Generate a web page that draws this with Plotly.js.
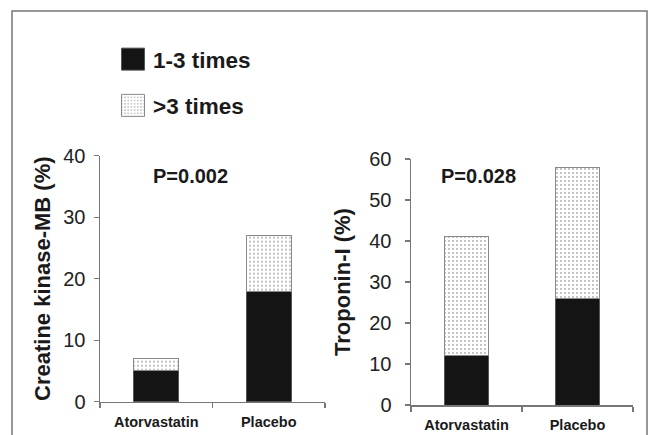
<!DOCTYPE html>
<html>
<head>
<meta charset="utf-8">
<script src="https://cdn.plot.ly/plotly-3.0.1.min.js"></script>
<style>html,body{margin:0;padding:0;background:#fff;}#chart{width:656px;height:435px;}</style>
</head>
<body>
<div id="chart"></div>
<script>
// Data
const categories = ['Atorvastatin', 'Placebo'];
const seriesNames = ['1-3 times', '>3 times'];
const ckLow = [5, 18];     // Creatine kinase-MB, 1-3 times (%)
const ckHigh = [2, 9];     // Creatine kinase-MB, >3 times (%)
const tnLow = [12, 26];    // Troponin-I, 1-3 times (%)
const tnHigh = [29, 32];   // Troponin-I, >3 times (%)
const pLabels = ['P=0.002', 'P=0.028'];
const yTitles = ['Creatine kinase-MB (%)', 'Troponin-I (%)'];

const W = 656, H = 435;
const FONT = 'Arial, "Liberation Sans", sans-serif';
const px = v => v / W;
const py = v => 1 - v / H;

const black = {color: '#141414', line: {color: '#555', width: 1}};
const dotted = {color: '#ffffff', line: {color: '#8a8a8a', width: 1},
  pattern: {shape: '.', fgcolor: '#b0b0b0', bgcolor: '#ffffff', size: 4, solidity: 0.18}};

const traces = [
  {type: 'bar', x: categories, y: ckLow, name: seriesNames[0], marker: black, xaxis: 'x', yaxis: 'y', legendgroup: 'a', showlegend: true, hoverinfo: 'skip'},
  {type: 'bar', x: categories, y: ckHigh, name: seriesNames[1], marker: dotted, xaxis: 'x', yaxis: 'y', legendgroup: 'b', showlegend: true, hoverinfo: 'skip'},
  {type: 'bar', x: categories, y: tnLow, name: seriesNames[0], marker: black, xaxis: 'x2', yaxis: 'y2', legendgroup: 'a', showlegend: false, hoverinfo: 'skip'},
  {type: 'bar', x: categories, y: tnHigh, name: seriesNames[1], marker: dotted, xaxis: 'x2', yaxis: 'y2', legendgroup: 'b', showlegend: false, hoverinfo: 'skip'}
];

const axisLine = {showline: true, linecolor: '#777', linewidth: 1.5, ticks: 'outside', ticklen: 5, tickcolor: '#777', tickwidth: 1.2, showgrid: false, zeroline: false, fixedrange: true};
const xCommon = Object.assign({}, axisLine, {type: 'category', tickson: 'boundaries', ticklen: 5, ticklabelstandoff: 6,
  tickfont: {family: FONT, size: 14.5, weight: 'bold', color: '#1a1a1a'}});
const yCommon = Object.assign({}, axisLine, {tickfont: {family: FONT, size: 20, color: '#222'}});
const titleFont = {family: FONT, size: 22, weight: 'bold', color: '#1a1a1a'};

const layout = {
  width: W, height: H,
  margin: {l: 0, r: 0, t: 0, b: 0},
  paper_bgcolor: '#fff', plot_bgcolor: '#fff',
  barmode: 'stack', bargap: 0.6,
  font: {family: FONT, color: '#1a1a1a'},
  xaxis: Object.assign({}, xCommon, {domain: [px(100), px(325)], anchor: 'y'}),
  yaxis: Object.assign({}, yCommon, {domain: [py(401.7), py(155.7)], range: [0, 40], tickvals: [0, 10, 20, 30, 40], anchor: 'x',
    ticklabelstandoff: 4, title: {text: yTitles[0], font: titleFont, standoff: 6}}),
  xaxis2: Object.assign({}, xCommon, {domain: [px(411), px(633)], anchor: 'y2'}),
  yaxis2: Object.assign({}, yCommon, {domain: [py(405), py(159)], range: [0, 60], tickvals: [0, 10, 20, 30, 40, 50, 60], anchor: 'x2',
    ticklabelstandoff: 9, title: {text: yTitles[1], font: titleFont, standoff: 12}}),
  showlegend: true,
  legend: {x: px(113), y: py(38), xanchor: 'left', yanchor: 'top', traceorder: 'grouped', tracegroupgap: 14,
    font: {family: FONT, size: 22.5, weight: 'bold', color: '#1a1a1a'}, bgcolor: 'rgba(0,0,0,0)', borderwidth: 0, itemclick: false, itemdoubleclick: false},
  annotations: [
    {xref: 'paper', yref: 'paper', x: px(190.5), y: py(176), text: pLabels[0], showarrow: false, xanchor: 'center', yanchor: 'middle',
      font: {family: FONT, size: 20, weight: 'bold', color: '#1a1a1a'}},
    {xref: 'paper', yref: 'paper', x: px(478.5), y: py(176), text: pLabels[1], showarrow: false, xanchor: 'center', yanchor: 'middle',
      font: {family: FONT, size: 20, weight: 'bold', color: '#1a1a1a'}}
  ],
  shapes: [
    {type: 'rect', xref: 'paper', yref: 'paper', x0: px(12), x1: px(647), y0: -0.05, y1: py(11),
      line: {color: '#777', width: 1.5}, fillcolor: 'rgba(0,0,0,0)', layer: 'below'}
  ]
};

Plotly.newPlot('chart', traces, layout, {displayModeBar: false, staticPlot: true}).then(function () {
  document.querySelectorAll('.legend g.legendpoints path').forEach(function (p) {
    p.setAttribute('d', 'M11.5,11H-11.5V-11H11.5Z');
  });
});
</script>
</body>
</html>
